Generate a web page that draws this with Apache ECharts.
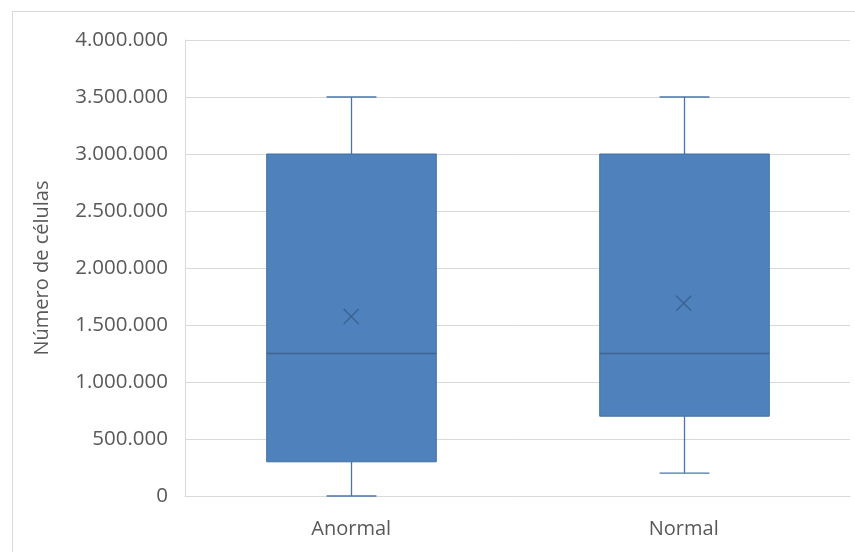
<!DOCTYPE html>
<html><head><meta charset="utf-8">
<script src="https://cdn.jsdelivr.net/npm/echarts@6/dist/echarts.min.js"></script>
<style>html,body{margin:0;padding:0;background:#fff}#c{width:855px;height:552px}</style>
</head><body><div id="c"></div>
<script>
const categories = ['Anormal', 'Normal'];
const minValues = [0, 200000];
const q1Values = [300000, 700000];
const medianValues = [1250000, 1250000];
const q3Values = [3000000, 3000000];
const maxValues = [3500000, 3500000];
const meanValues = [1575000, 1690000];
const yTicks = [0, 500000, 1000000, 1500000, 2000000, 2500000, 3000000, 3500000, 4000000];

const fmt = v => String(v).replace(/\B(?=(\d{3})+(?!\d))/g, '.');
const boxData = categories.map((c, i) => [i, minValues[i], q1Values[i], medianValues[i], q3Values[i], maxValues[i]]);
const meanData = categories.map((c, i) => [i, meanValues[i]]);
const FONT = '"Open Sans", "Noto Sans", sans-serif';

const chart = echarts.init(document.getElementById('c'), null, {renderer: 'canvas'});
chart.setOption({
  animation: false,
  graphic: [{type: 'rect', shape: {x: 12.5, y: 11.5, width: 900, height: 600}, style: {fill: 'none', stroke: '#d9d9d9', lineWidth: 1}, silent: true}],
  grid: {left: 185, right: 5, top: 40, bottom: 56},
  xAxis: {
    type: 'category', data: categories,
    axisLine: {show: true, lineStyle: {color: '#d9d9d9'}},
    axisTick: {show: false},
    axisLabel: {color: '#595959', fontSize: 20, fontFamily: FONT, margin: 23}
  },
  yAxis: {
    type: 'value', min: 0, max: 4000000, interval: 500000,
    name: 'Número de células', nameLocation: 'middle', nameGap: 133,
    nameTextStyle: {color: '#595959', fontSize: 20, fontFamily: FONT},
    axisLine: {show: true, lineStyle: {color: '#d9d9d9'}},
    axisTick: {show: false},
    splitLine: {lineStyle: {color: '#d9d9d9'}},
    axisLabel: {color: '#595959', fontSize: 20.5, fontFamily: FONT, margin: 17, formatter: v => fmt(v)}
  },
  series: [{
    type: 'custom',
    data: boxData,
    encode: {x: 0, y: [1, 2, 3, 4, 5]},
    renderItem: function (params, api) {
      const x = api.value(0);
      const pMin = api.coord([x, api.value(1)]);
      const pQ1 = api.coord([x, api.value(2)]);
      const pMed = api.coord([x, api.value(3)]);
      const pQ3 = api.coord([x, api.value(4)]);
      const pMax = api.coord([x, api.value(5)]);
      const band = api.size([1, 0])[0];
      const bw = band * 0.51;
      const cw = band * 0.15;
      const cx = Math.round(pMin[0]) + 0.5;
      const wl = {stroke: '#4a75a8', lineWidth: 1.3};
      return {type: 'group', children: [
        {type: 'line', shape: {x1: cx, y1: pMax[1], x2: cx, y2: pQ3[1]}, style: wl},
        {type: 'line', shape: {x1: cx, y1: pQ1[1], x2: cx, y2: pMin[1]}, style: wl},
        {type: 'line', shape: {x1: cx - cw / 2, y1: pMax[1], x2: cx + cw / 2, y2: pMax[1]}, style: wl},
        {type: 'line', shape: {x1: cx - cw / 2, y1: pMin[1], x2: cx + cw / 2, y2: pMin[1]}, style: wl},
        {type: 'rect', shape: {x: cx - bw / 2, y: pQ3[1], width: bw, height: pQ1[1] - pQ3[1]}, style: {fill: '#4f81bd', stroke: '#41719c', lineWidth: 1}},
        {type: 'line', shape: {x1: cx - bw / 2, y1: pMed[1], x2: cx + bw / 2, y2: pMed[1]}, style: {stroke: '#3e6594', lineWidth: 1.3}}
      ]};
    },
    z: 2
  }, {
    type: 'custom',
    data: meanData,
    encode: {x: 0, y: 1},
    renderItem: function (params, api) {
      const p = api.coord([api.value(0), api.value(1)]);
      const s = 7.5;
      const st = {stroke: '#3b6392', lineWidth: 1.5};
      return {type: 'group', children: [
        {type: 'line', shape: {x1: p[0] - s, y1: p[1] - s, x2: p[0] + s, y2: p[1] + s}, style: st},
        {type: 'line', shape: {x1: p[0] - s, y1: p[1] + s, x2: p[0] + s, y2: p[1] - s}, style: st}
      ]};
    },
    z: 3
  }]
});
</script></body></html>
